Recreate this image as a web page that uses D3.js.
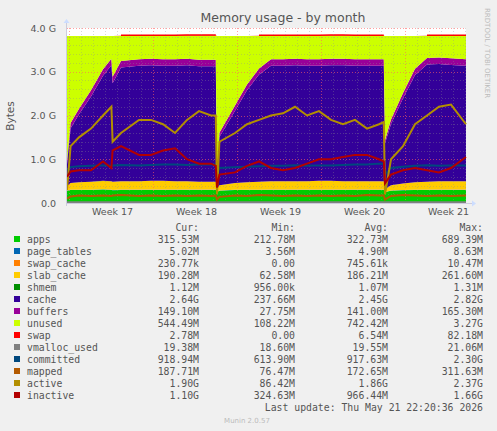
<!DOCTYPE html>
<html><head><meta charset="utf-8">
<script src="https://cdn.jsdelivr.net/npm/d3@7"></script>
<style>body{margin:0;background:#F0F0F0}svg{display:block}</style>
</head><body><svg id="c" width="497" height="431"></svg>
<script>
// time in days since left edge of plot
const days = [0,0.3,1,2,3,3.7,3.8,4.5,6,7,8,9,10,11,12,12.4,12.5,12.7,14,15,16,17,18,19,20,21,22,23,24,25,26,26.4,26.5,27,28,29,30,31,32,33.25];
// values in GiB
const apps      = [0.28,0.3,0.3,0.3,0.31,0.3,0.29,0.3,0.3,0.3,0.3,0.3,0.3,0.3,0.3,0.3,0.25,0.28,0.3,0.3,0.3,0.3,0.3,0.3,0.3,0.3,0.3,0.3,0.3,0.3,0.3,0.3,0.25,0.28,0.29,0.3,0.3,0.3,0.3,0.3];
const pageTables= [0.005,0.005,0.005,0.005,0.005,0.005,0.005,0.005,0.005,0.005,0.005,0.005,0.005,0.005,0.005,0.005,0.004,0.005,0.005,0.005,0.005,0.005,0.005,0.005,0.005,0.005,0.005,0.005,0.005,0.005,0.005,0.005,0.004,0.005,0.005,0.005,0.005,0.005,0.005,0.005];
const swapCache = [0,0,0,0,0,0.001,0.001,0.001,0.001,0.001,0.001,0.001,0.001,0.001,0.001,0.001,0,0,0,0,0,0.001,0.001,0.001,0.001,0.001,0.001,0.001,0.001,0.001,0.001,0.001,0,0,0,0,0,0.001,0.001,0.001];
const slabCache = [0.1,0.15,0.17,0.18,0.19,0.19,0.19,0.19,0.19,0.2,0.2,0.19,0.19,0.18,0.18,0.18,0.06,0.12,0.15,0.17,0.18,0.19,0.19,0.19,0.19,0.2,0.2,0.19,0.19,0.19,0.19,0.19,0.06,0.12,0.15,0.17,0.18,0.19,0.19,0.19];
const shmem     = [0.001,0.001,0.001,0.001,0.001,0.001,0.001,0.001,0.001,0.001,0.001,0.001,0.001,0.001,0.001,0.001,0.001,0.001,0.001,0.001,0.001,0.001,0.001,0.001,0.001,0.001,0.001,0.001,0.001,0.001,0.001,0.001,0.001,0.001,0.001,0.001,0.001,0.001,0.001,0.001];
const cache     = [0.5,1.25,1.55,1.95,2.4,2.65,2.25,2.6,2.64,2.64,2.63,2.64,2.65,2.64,2.64,2.64,0.1,1.1,1.65,2.1,2.45,2.64,2.64,2.65,2.64,2.63,2.64,2.65,2.64,2.64,2.64,2.64,1.05,1.4,1.95,2.45,2.68,2.68,2.66,2.64];
const buffers   = [0.08,0.12,0.13,0.14,0.15,0.15,0.15,0.15,0.15,0.15,0.15,0.15,0.15,0.15,0.15,0.15,0.05,0.1,0.12,0.13,0.14,0.15,0.15,0.15,0.15,0.15,0.15,0.15,0.15,0.15,0.15,0.15,0.07,0.1,0.12,0.14,0.15,0.15,0.15,0.15];
const swap      = [0,0,0,0,0,0,0,0.004,0.004,0.004,0.004,0.004,0.01,0.01,0.01,0.01,0,0,0,0,0.003,0.003,0.003,0.003,0.003,0.003,0.01,0.01,0.003,0.003,0.003,0.003,0,0,0,0,0.003,0.003,0.003,0.003];
const vmalloc   = [0.018,0.019,0.019,0.019,0.019,0.019,0.019,0.019,0.019,0.019,0.019,0.019,0.019,0.019,0.019,0.019,0.018,0.019,0.019,0.019,0.019,0.019,0.019,0.019,0.019,0.019,0.019,0.019,0.019,0.019,0.019,0.019,0.018,0.019,0.019,0.019,0.019,0.019,0.019,0.019];
const committed = [0.75,0.82,0.84,0.85,0.86,0.86,0.86,0.87,0.86,0.87,0.88,0.88,0.87,0.88,0.88,0.88,0.62,0.8,0.82,0.83,0.84,0.85,0.85,0.86,0.85,0.86,0.86,0.87,0.88,0.88,0.9,0.9,0.65,0.8,0.83,0.85,0.86,0.85,0.86,0.86];
const mapped    = [0.1,0.15,0.17,0.16,0.17,0.16,0.17,0.18,0.16,0.17,0.16,0.17,0.16,0.17,0.16,0.17,0.08,0.14,0.17,0.16,0.18,0.17,0.16,0.17,0.16,0.17,0.16,0.17,0.16,0.18,0.17,0.17,0.08,0.16,0.18,0.17,0.16,0.17,0.16,0.17];
const active    = [0.3,1.3,1.5,1.7,2.0,2.2,1.4,1.6,1.9,1.9,1.8,1.6,1.9,2.1,2.0,2.0,0.2,1.4,1.6,1.8,1.9,2.0,2.05,2.2,2.0,2.1,1.9,1.8,1.9,1.7,1.8,1.85,0.2,1.0,1.3,1.8,2.0,2.2,2.25,1.8];
const inactive  = [0.6,0.72,0.75,0.75,0.95,0.8,1.2,1.3,1.1,1.1,1.2,1.25,1.0,0.9,0.9,0.85,0.35,0.65,0.7,0.85,0.95,0.8,0.75,0.8,0.9,1.0,1.0,1.05,1.1,1.1,1.0,0.95,0.45,0.65,0.75,0.8,0.75,0.7,0.8,1.05];
const totalMem = 3.82;
const weekTicks = [{d:3.8,l:"Week 17"},{d:10.8,l:"Week 18"},{d:17.8,l:"Week 19"},{d:24.8,l:"Week 20"},{d:31.8,l:"Week 21"}];
const yTicks = [0,1,2,3,4];
const legendNames = ["apps","page_tables","swap_cache","slab_cache","shmem","cache","buffers","unused","swap","vmalloc_used","committed","mapped","active","inactive"];
const legendColors = ["#00CC00","#0066B3","#FF8000","#FFCC00","#008F00","#330099","#990099","#CCFF00","#FF0000","#808080","#00487D","#B35A00","#B38F00","#B30000"];
const legCur = ["315.53M","5.02M","230.77k","190.28M","1.12M","2.64G","149.10M","544.49M","2.78M","19.38M","918.94M","187.71M","1.90G","1.10G"];
const legMin = ["212.78M","3.56M","0.00","62.58M","956.00k","237.66M","27.75M","108.22M","0.00","18.60M","613.90M","76.47M","86.42M","324.63M"];
const legAvg = ["322.73M","4.90M","745.61k","186.21M","1.07M","2.45G","141.00M","742.42M","6.54M","19.55M","917.63M","172.65M","1.86G","966.44M"];
const legMax = ["689.39M","8.63M","10.47M","261.60M","1.31M","2.82G","165.30M","3.27G","82.18M","21.06M","2.30G","311.63M","2.37G","1.66G"];

const svg = d3.select("#c");
const X0=67, X1=466, Y0=203, YT=28;
const x = d3.scaleLinear().domain([0,33.25]).range([X0,X1]);
const y = d3.scaleLinear().domain([0,4]).range([Y0,YT]);
svg.append("rect").attr("x",X0).attr("y",YT).attr("width",X1-X0).attr("height",Y0-YT).attr("fill","#fff");

const rows = days.map((d,i)=>({d,apps:apps[i],pt:pageTables[i],sc:swapCache[i],slab:slabCache[i],shmem:shmem[i],cache:cache[i],buf:buffers[i],
  unused: totalMem-(apps[i]+pageTables[i]+swapCache[i]+slabCache[i]+shmem[i]+cache[i]+buffers[i]), swap:swap[i]}));
const keys=["apps","pt","sc","slab","shmem","cache","buf","unused","swap"];
const stack = d3.stack().keys(keys)(rows);
const area = d3.area().x(d=>x(d.data.d)).y0(d=>y(d[0])).y1(d=>y(d[1]));
stack.forEach((s,i)=>svg.append("path").attr("d",area(s)).attr("fill",legendColors[i]));
// swap visible only where present
svg.append("path").attr("d",d3.line().defined(d=>d.data.swap>0).x(d=>x(d.data.d)).y(d=>y(d[1])-0.5)(stack[8]))
  .attr("fill","none").attr("stroke","#FF0000").attr("stroke-width",1.5);

// grid
const g = svg.append("g");
for(let v=0.2; v<4.01; v+=0.2){ const major=Math.abs(v-Math.round(v))<1e-6;
  g.append("line").attr("x1",X0).attr("x2",X1).attr("y1",Math.round(y(v))+0.5).attr("y2",Math.round(y(v))+0.5)
   .attr("stroke",major?"#FF6060":"#909090").attr("stroke-opacity",major?0.6:0.35).attr("stroke-dasharray","1,2");}
for(let d=0.2; d<33.25; d+=1){ const major=Math.abs(((d-0.2)%7))<1e-6;
  g.append("line").attr("y1",YT).attr("y2",Y0).attr("x1",Math.round(x(d))+0.5).attr("x2",Math.round(x(d))+0.5)
   .attr("stroke",major?"#FF6060":"#909090").attr("stroke-opacity",major?0.6:0.35).attr("stroke-dasharray","1,2");}

[[vmalloc,"#808080"],[committed,"#00487D"],[mapped,"#B35A00"],[active,"#B38F00"],[inactive,"#B30000"]].forEach(([arr,c])=>
  svg.append("path").attr("d",d3.line().x((d,i)=>x(days[i])).y(d=>y(d))(arr)).attr("fill","none").attr("stroke",c).attr("stroke-width",2));

// axes
svg.append("line").attr("x1",X0-1).attr("x2",X1+6).attr("y1",Y0+0.5).attr("y2",Y0+0.5).attr("stroke","#ccccdd");
svg.append("line").attr("x1",X0-0.5).attr("x2",X0-0.5).attr("y1",Y0+3).attr("y2",YT-6).attr("stroke","#ccccdd");
svg.append("path").attr("d",`M${X1+6},${Y0-2.5}L${X1+10},${Y0+0.5}L${X1+6},${Y0+3.5}Z`).attr("fill","#ccddff");
svg.append("path").attr("d",`M${X0-3.5},${YT-5}L${X0-0.5},${YT-9}L${X0+2.5},${YT-5}Z`).attr("fill","#ccddff");
const F="DejaVu Sans, sans-serif", M="DejaVu Sans Mono, monospace";
yTicks.forEach(v=>svg.append("text").attr("x",56).attr("y",y(v)+3.5).attr("text-anchor","end").attr("font-family",F).attr("font-size",9.5).attr("fill","#555").text(v===0?"0.0":v.toFixed(1)+" G"));
weekTicks.forEach(t=>svg.append("text").attr("x",x(t.d)).attr("y",215).attr("text-anchor","middle").attr("font-family",F).attr("font-size",9.5).attr("fill","#555").text(t.l));
svg.append("text").attr("transform","translate(14,116) rotate(-90)").attr("text-anchor","middle").attr("font-family",F).attr("font-size",10.5).attr("fill","#555").text("Bytes");
svg.append("text").attr("x",283).attr("y",22).attr("text-anchor","middle").attr("font-family",F).attr("font-size",12.5).attr("fill","#555").text("Memory usage - by month");
svg.append("text").attr("transform","translate(485,8) rotate(90)").attr("font-family",F).attr("font-size",7).attr("fill","#bbb").text("RRDTOOL / TOBI OETIKER");

// legend
const lt=(xx,yy,t,anc)=>svg.append("text").attr("x",xx).attr("y",yy).attr("text-anchor",anc).attr("font-family",M).attr("font-size",9.8).attr("fill","#555").text(t);
lt(199,231,"Cur:","end");lt(295,231,"Min:","end");lt(388,231,"Avg:","end");lt(483,231,"Max:","end");
legendNames.forEach((n,i)=>{const yy=243+12*i;
  svg.append("rect").attr("x",14).attr("y",yy-7).attr("width",6).attr("height",6).attr("fill",legendColors[i]);
  lt(27,yy,n,"start");lt(199,yy,legCur[i],"end");lt(295,yy,legMin[i],"end");lt(388,yy,legAvg[i],"end");lt(483,yy,legMax[i],"end");});
lt(483,411,"Last update: Thu May 21 22:20:36 2026","end");
svg.append("text").attr("x",247).attr("y",423).attr("text-anchor","middle").attr("font-family",F).attr("font-size",7).attr("fill","#bbb").text("Munin 2.0.57");
</script></body></html>
